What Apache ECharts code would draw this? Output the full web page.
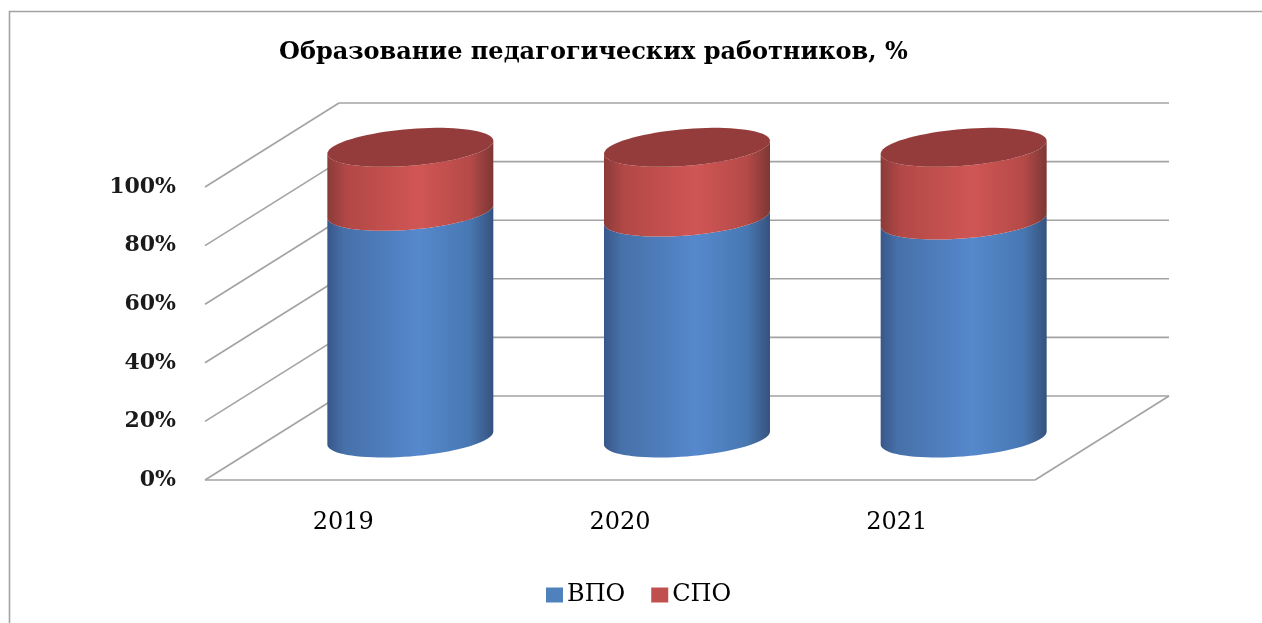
<!DOCTYPE html>
<html>
<head>
<meta charset="utf-8">
<title>Образование педагогических работников</title>
<style>
html, body { margin: 0; padding: 0; background: #fff; }
#main { width: 1262px; height: 623px; }
</style>
<script src="https://cdn.jsdelivr.net/npm/echarts@6/dist/echarts.min.js"></script>
</head>
<body>
<div id="main"></div>
<script>
var years = ['2019', '2020', '2021'];
var vpoValues = [78, 76, 75];
var spoValues = [22, 24, 25];
var yTicks = [0, 20, 40, 60, 80, 100];

// depth of the fake 3d box, px
var depthX = 134, depthY = 84;
// cylinder look
var radiusX = 83, radiusY = 18.4, tilt = 6.5, heightScale = 0.992;
var lineColor = '#a3a3a3';
var serif = '"DejaVu Serif", "Liberation Serif", serif';

var blueSide = [[0, '#38578a'], [0.1, '#4670a8'], [0.55, '#5688cd'], [0.86, '#4878b2'], [1, '#36527e']];
var redSide = [[0, '#8a3b39'], [0.12, '#b24846'], [0.55, '#d05654'], [0.86, '#b54a48'], [1, '#7d3735']];
var redTop = '#943c3b';

function gradient(stops) {
    return new echarts.graphic.LinearGradient(0, 0, 1, 0, stops.map(function (s) {
        return { offset: s[0], color: s[1] };
    }));
}

function ellipsePoint(cx, cy, t) {
    return [cx + radiusX * Math.cos(t), cy + radiusY * Math.sin(t) - tilt * Math.cos(t)];
}

// side wall between two levels, lower front arc and upper front arc
function bodyPoints(cx, yLow, yHigh) {
    var pts = [], n = 40, i;
    for (i = 0; i <= n; i++) {
        pts.push(ellipsePoint(cx, yLow, Math.PI * i / n));
    }
    for (i = 0; i <= n; i++) {
        pts.push(ellipsePoint(cx, yHigh, Math.PI - Math.PI * i / n));
    }
    return pts;
}

function topPoints(cx, cy) {
    var pts = [], n = 80;
    for (var i = 0; i < n; i++) {
        pts.push(ellipsePoint(cx, cy, 2 * Math.PI * i / n));
    }
    return pts;
}

function centerOf(api, idx, value) {
    var p = api.coord([idx, value * heightScale]);
    return [p[0] + depthX / 2, p[1] - depthY / 2];
}

function renderVpo(params, api) {
    var idx = api.value(0);
    var low = centerOf(api, idx, 0);
    var high = centerOf(api, idx, api.value(1));
    return {
        type: 'polygon',
        shape: { points: bodyPoints(low[0], low[1], high[1]) },
        style: { fill: gradient(blueSide) }
    };
}

function renderSpo(params, api) {
    var idx = api.value(0);
    var base = vpoValues[idx];
    var low = centerOf(api, idx, base);
    var high = centerOf(api, idx, base + api.value(1));
    return {
        type: 'group',
        children: [{
            type: 'polygon',
            shape: { points: bodyPoints(low[0], low[1], high[1]) },
            style: { fill: gradient(redSide) }
        }, {
            type: 'polygon',
            shape: { points: topPoints(high[0], high[1]) },
            style: { fill: redTop }
        }]
    };
}

function wallLine(x1, y1, x2, y2) {
    return {
        type: 'line',
        shape: { x1: x1, y1: y1, x2: x2, y2: y2 },
        style: { stroke: lineColor, lineWidth: 1.6 }
    };
}

// gridlines on the side wall and the back wall
function renderWalls(params, api) {
    var value = api.value(0);
    var sys = params.coordSys;
    var y = api.coord([0, value])[1];
    var left = sys.x, right = sys.x + sys.width;
    var lines = [
        wallLine(left, y, left + depthX, y - depthY),
        wallLine(left + depthX, y - depthY, right + depthX, y - depthY)
    ];
    if (value === 0) {
        lines.push(wallLine(left, y, right, y));
        lines.push(wallLine(right, y, right + depthX, y - depthY));
    }
    return { type: 'group', children: lines };
}

var myChart = echarts.init(document.getElementById('main'));

var option = {
    animation: false,
    backgroundColor: '#fff',
    title: {
        text: 'Образование педагогических работников, %',
        left: 274,
        top: 36,
        textStyle: { fontFamily: serif, fontSize: 24, fontWeight: 'bold', color: '#000' }
    },
    legend: {
        data: ['ВПО', 'СПО'],
        left: 541,
        top: 578,
        icon: 'rect',
        itemWidth: 17,
        itemHeight: 15,
        itemGap: 26,
        textStyle: { fontFamily: serif, fontSize: 24, color: '#000', padding: [0, 0, 0, -1] }
    },
    grid: { left: 205, right: 227, top: 187, bottom: 143 },
    xAxis: {
        type: 'category',
        data: years,
        axisLine: { show: false },
        axisTick: { show: false },
        axisLabel: { margin: 31, fontFamily: serif, fontSize: 24, color: '#000' }
    },
    yAxis: {
        type: 'value',
        min: 0,
        max: 100,
        interval: 20,
        axisLine: { show: false },
        axisTick: { show: false },
        splitLine: { show: false },
        axisLabel: {
            margin: 29,
            fontFamily: serif,
            fontSize: 22,
            fontWeight: 'bold',
            color: '#1a1a1a',
            formatter: '{value}%'
        }
    },
    graphic: [{
        type: 'polyline',
        shape: { points: [[9.5, 623], [9.5, 11.5], [1262, 11.5]] },
        style: { stroke: lineColor, lineWidth: 1.6, fill: null },
        silent: true
    }],
    series: [{
        type: 'custom',
        name: 'walls',
        z: 1,
        silent: true,
        renderItem: renderWalls,
        data: yTicks.map(function (t) { return [t]; }),
        encode: { y: 0 }
    }, {
        type: 'custom',
        name: 'ВПО',
        z: 2,
        itemStyle: { color: '#4f81bd' },
        renderItem: renderVpo,
        data: vpoValues.map(function (v, i) { return [i, v]; }),
        encode: { x: 0, y: 1 }
    }, {
        type: 'custom',
        name: 'СПО',
        z: 3,
        itemStyle: { color: '#c0504d' },
        renderItem: renderSpo,
        data: spoValues.map(function (v, i) { return [i, v]; }),
        encode: { x: 0, y: 1 }
    }]
};
myChart.setOption(option);
</script>
</body>
</html>
